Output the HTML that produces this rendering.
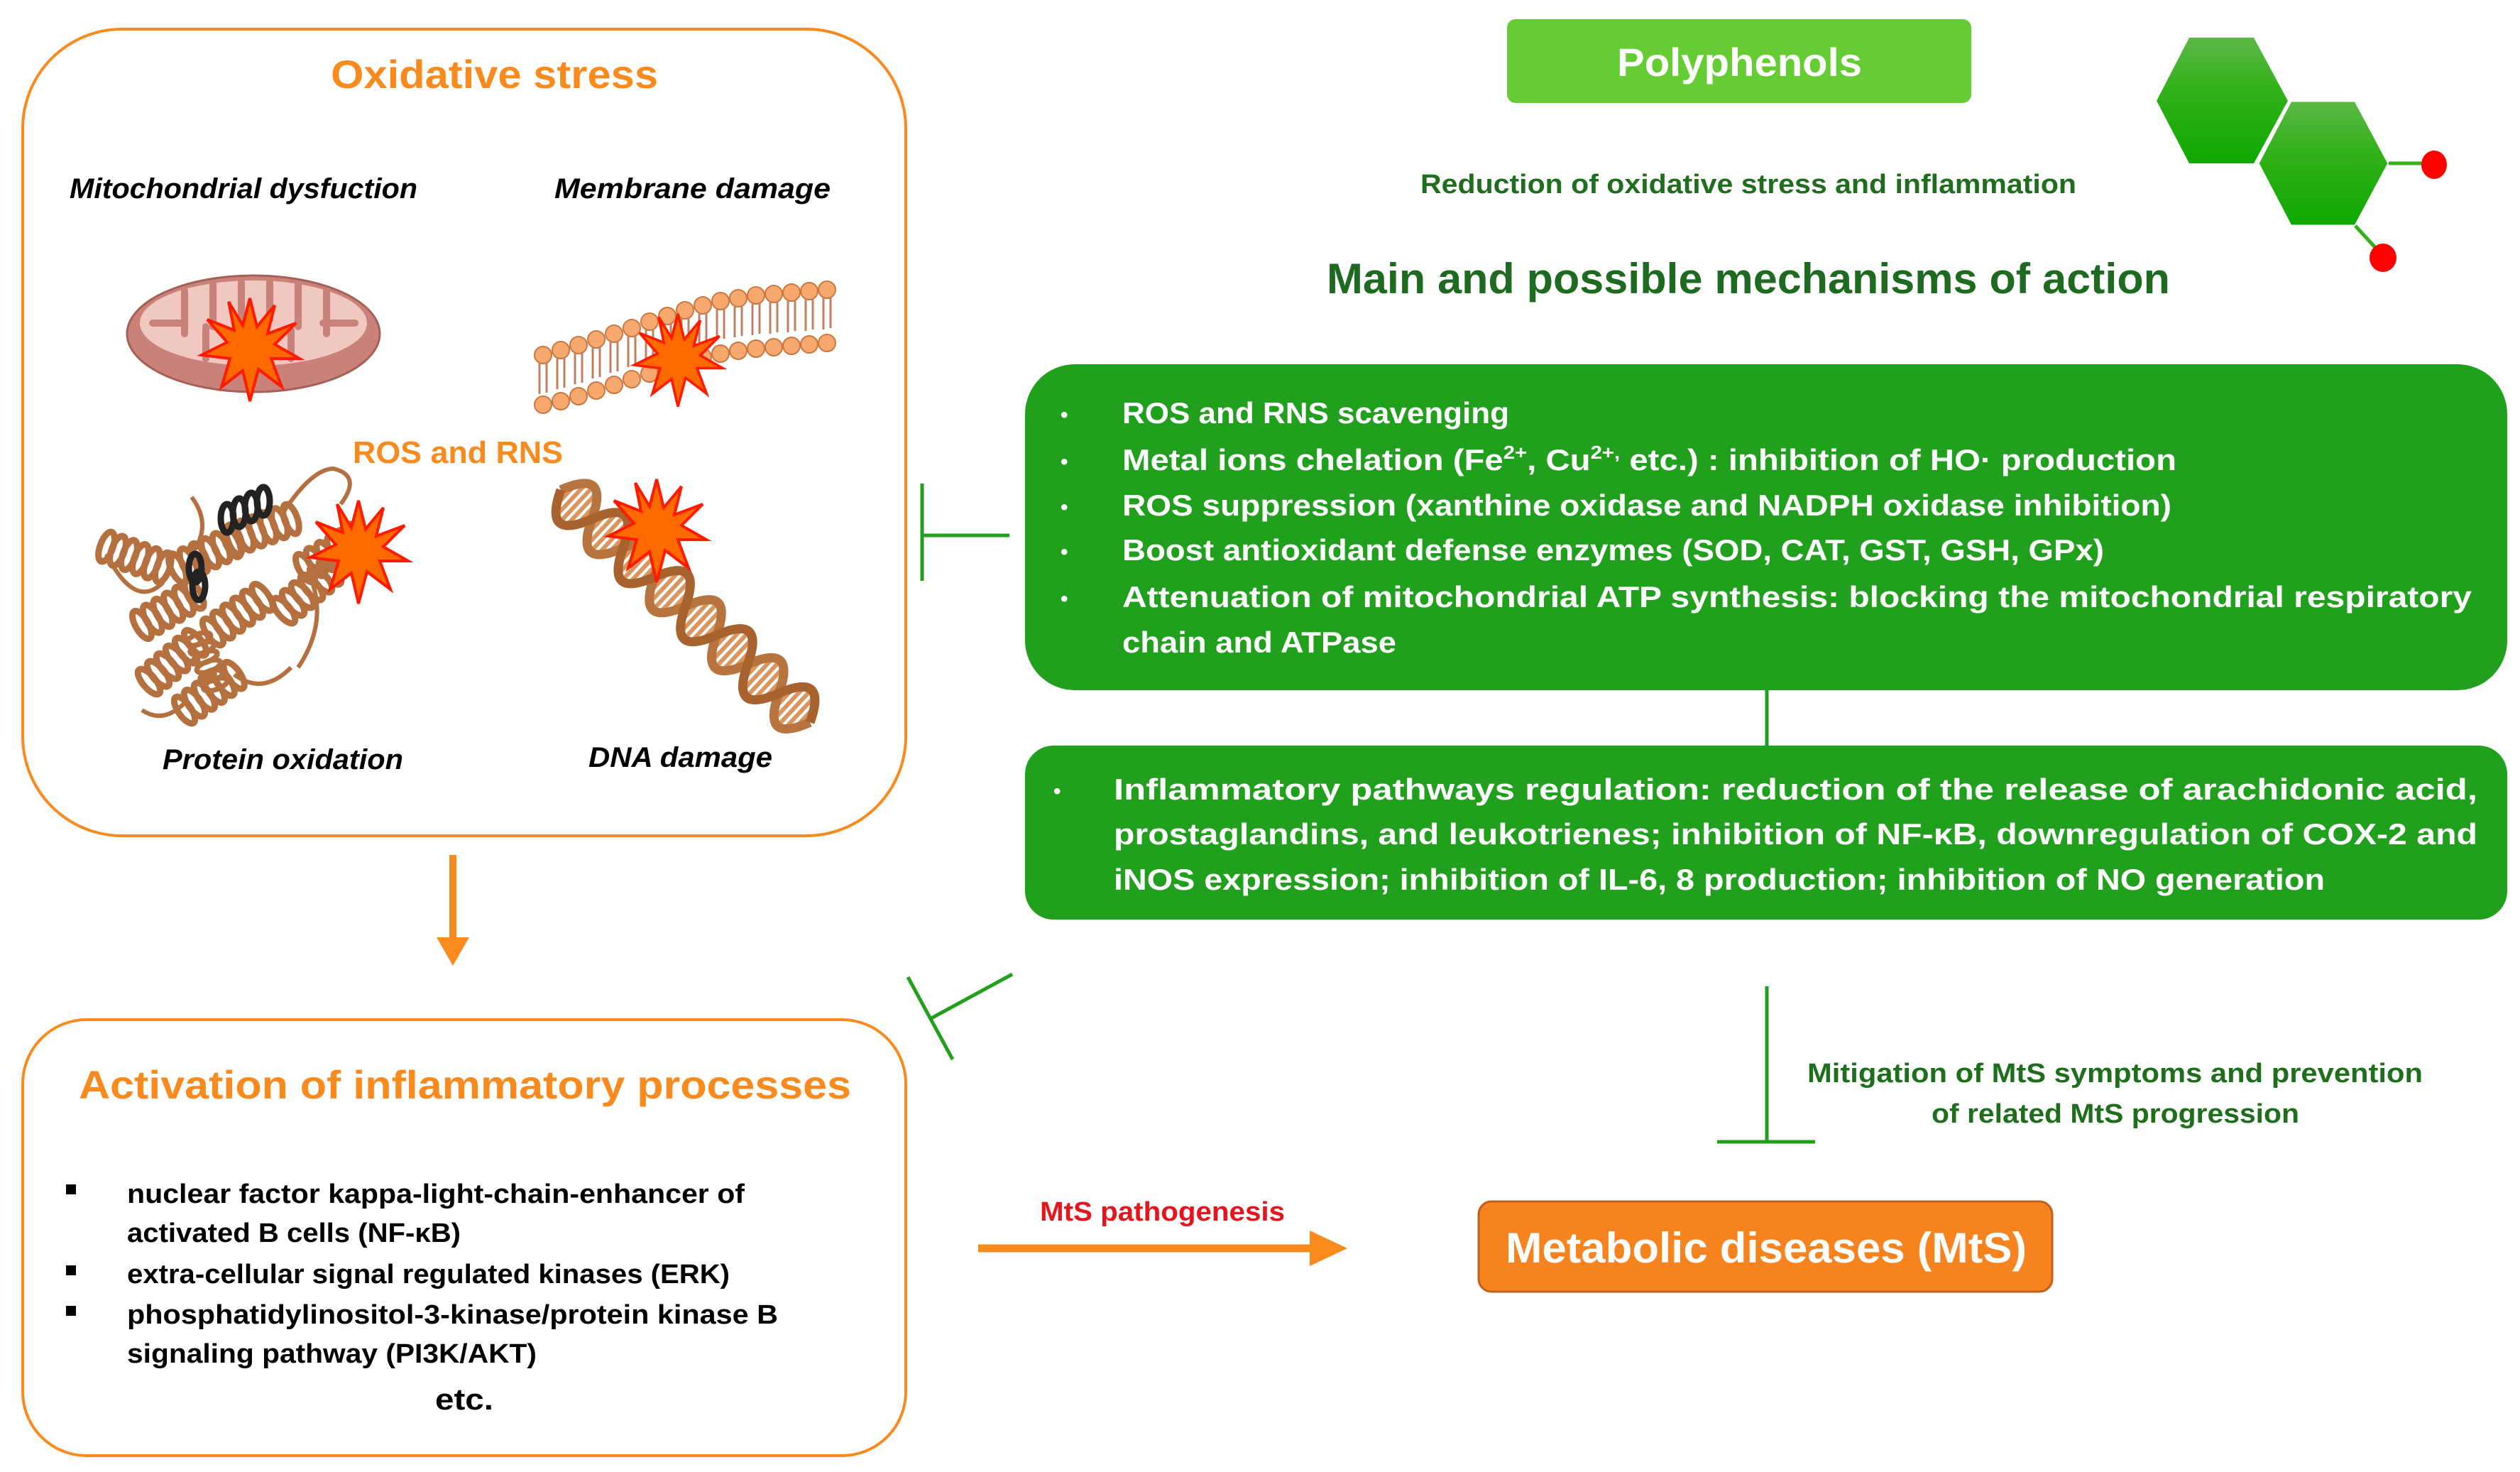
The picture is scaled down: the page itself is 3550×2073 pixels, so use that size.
<!DOCTYPE html>
<html><head><meta charset="utf-8"><style>
html,body{margin:0;padding:0;background:#fff;}
svg{display:block;}
text{font-family:"Liberation Sans",sans-serif;font-weight:bold;}
</style></head><body>
<svg width="3550" height="2073" viewBox="0 0 3550 2073" xmlns="http://www.w3.org/2000/svg">
<defs>
<linearGradient id="hg" x1="0" y1="0" x2="0" y2="1"><stop offset="0" stop-color="#5cb847"/><stop offset="0.4" stop-color="#33b11a"/><stop offset="1" stop-color="#0fa800"/></linearGradient>
<g id="star"><polygon points="0,-70 10,-30 35,-60 25,-20 65,-35 35,-5 70,15 30,15 45,55 12,30 0,75 -10,32 -40,55 -28,15 -68,10 -32,-8 -60,-40 -22,-25 -30,-65 -10,-32" fill="#ff6a00" stroke="#ff1a00" stroke-width="4"/></g>
<g id="hx" fill="none" stroke="#b4703e" stroke-width="9"><ellipse cx="0" cy="0" rx="9" ry="22"/><ellipse cx="17" cy="0" rx="9" ry="22"/><ellipse cx="34" cy="0" rx="9" ry="22"/><ellipse cx="51" cy="0" rx="9" ry="22"/><ellipse cx="68" cy="0" rx="9" ry="22"/><ellipse cx="85" cy="0" rx="9" ry="22"/></g>
<g id="rung" stroke="#d9965f" stroke-width="6"><line x1="10" y1="-17" x2="10" y2="17"/><line x1="20" y1="-30" x2="20" y2="30"/><line x1="30" y1="-35" x2="30" y2="35"/><line x1="40" y1="-30" x2="40" y2="30"/><line x1="50" y1="-17" x2="50" y2="17"/></g>
</defs>

<!-- Oxidative stress box -->
<rect x="32" y="41" width="1244" height="1136" rx="140" fill="none" stroke="#f98a1e" stroke-width="4"/>
<text x="466" y="124" font-size="56" fill="#f98a1e" textLength="461" lengthAdjust="spacingAndGlyphs">Oxidative stress</text>
<text x="98" y="279" font-size="40" font-style="italic" fill="#000" textLength="490" lengthAdjust="spacingAndGlyphs">Mitochondrial dysfuction</text>
<text x="781" y="279" font-size="40" font-style="italic" fill="#000" textLength="389" lengthAdjust="spacingAndGlyphs">Membrane damage</text>
<text x="497" y="652" font-size="44" fill="#f98a1e" textLength="296" lengthAdjust="spacingAndGlyphs">ROS and RNS</text>
<text x="229" y="1083" font-size="40" font-style="italic" fill="#000" textLength="339" lengthAdjust="spacingAndGlyphs">Protein oxidation</text>
<text x="829" y="1080" font-size="40" font-style="italic" fill="#000" textLength="259" lengthAdjust="spacingAndGlyphs">DNA damage</text>

<!-- mitochondrion -->
<ellipse cx="357" cy="470" rx="178" ry="82" fill="#c98279" stroke="#a66058" stroke-width="3"/>
<ellipse cx="357" cy="455" rx="160" ry="60" fill="#f0c8c0"/>
<g fill="none" stroke="#c98279" stroke-width="10" stroke-linecap="round">
<path d="M215,455 L255,455 M260,410 L260,470 M300,400 L300,460 M340,398 L340,450 M380,398 L380,450 M420,400 L420,460 M460,410 L460,470 M500,455 L455,455 M290,505 L290,460 M410,505 L410,465"/>
</g>
<use href="#star" transform="translate(352,490)"/>

<!-- membrane -->
<g fill="#f7a86e" stroke="#c87840" stroke-width="2">
<circle cx="765" cy="500" r="12"/><circle cx="790" cy="493" r="12"/><circle cx="815" cy="486" r="12"/><circle cx="840" cy="478" r="12"/><circle cx="865" cy="470" r="12"/><circle cx="890" cy="462" r="12"/><circle cx="915" cy="453" r="12"/><circle cx="940" cy="445" r="12"/><circle cx="965" cy="437" r="12"/><circle cx="990" cy="430" r="12"/><circle cx="1015" cy="424" r="12"/><circle cx="1040" cy="420" r="12"/><circle cx="1065" cy="416" r="12"/><circle cx="1090" cy="414" r="12"/><circle cx="1115" cy="412" r="12"/><circle cx="1140" cy="410" r="12"/><circle cx="1165" cy="408" r="12"/>
<circle cx="765" cy="570" r="12"/><circle cx="790" cy="565" r="12"/><circle cx="815" cy="558" r="12"/><circle cx="840" cy="550" r="12"/><circle cx="865" cy="542" r="12"/><circle cx="890" cy="534" r="12"/><circle cx="915" cy="526" r="12"/><circle cx="940" cy="518" r="12"/><circle cx="965" cy="510" r="12"/><circle cx="990" cy="503" r="12"/><circle cx="1015" cy="498" r="12"/><circle cx="1040" cy="494" r="12"/><circle cx="1065" cy="491" r="12"/><circle cx="1090" cy="489" r="12"/><circle cx="1115" cy="487" r="12"/><circle cx="1140" cy="485" r="12"/><circle cx="1165" cy="483" r="12"/>
</g>
<path d="M760,512 L760,555 M770,510 L770,553 M785,505 L785,548 M795,503 L795,546 M810,498 L810,541 M820,496 L820,539 M835,490 L835,533 M845,488 L845,531 M860,482 L860,525 M870,480 L870,523 M885,474 L885,517 M895,472 L895,515 M910,465 L910,508 M920,463 L920,506 M935,457 L935,500 M945,455 L945,498 M960,449 L960,492 M970,447 L970,490 M985,442 L985,485 M995,440 L995,483 M1010,436 L1010,479 M1020,434 L1020,477 M1035,432 L1035,475 M1045,430 L1045,473 M1060,428 L1060,472 M1070,426 L1070,470 M1085,426 L1085,470 M1095,424 L1095,468 M1110,424 L1110,468 M1120,422 L1120,466 M1135,422 L1135,466 M1145,420 L1145,464 M1160,420 L1160,464 M1170,418 L1170,462" stroke="#c08060" stroke-width="3"/>
<use href="#star" transform="translate(955,505) scale(0.9)"/>

<!-- protein -->
<g fill="none" stroke="#b4703e" stroke-width="6">
<path d="M400,720 q40,-60 70,-60 q40,10 10,50"/>
<path d="M200,1000 q30,20 60,-10 M270,700 q30,40 0,80 M440,820 q20,60 -20,120 M150,780 q40,80 80,40 M330,950 q40,30 80,-10"/>
</g>
<use href="#hx" transform="translate(150,770) rotate(20)"/>
<use href="#hx" transform="translate(250,800) rotate(-25)"/>
<use href="#hx" transform="translate(330,760) rotate(-20)"/>
<use href="#hx" transform="translate(200,880) rotate(-30)"/>
<use href="#hx" transform="translate(300,890) rotate(-35)"/>
<use href="#hx" transform="translate(210,960) rotate(-40)"/>
<use href="#hx" transform="translate(400,860) rotate(-40)"/>
<use href="#hx" transform="translate(260,1000) rotate(-35)"/>
<use href="#hx" transform="translate(430,800) rotate(-30)"/>
<g transform="translate(280,900) rotate(70) scale(0.8)"><use href="#hx"/></g>
<g transform="translate(935,650) scale(0)"></g>
<g fill="none" stroke="#222" stroke-width="9"><ellipse cx="320" cy="730" rx="9" ry="20"/><ellipse cx="337" cy="722" rx="9" ry="20"/><ellipse cx="354" cy="714" rx="9" ry="20"/><ellipse cx="371" cy="706" rx="9" ry="20"/></g>
<g fill="none" stroke="#222" stroke-width="9"><ellipse cx="275" cy="800" rx="9" ry="20"/><ellipse cx="280" cy="825" rx="9" ry="20"/></g>
<use href="#star" transform="translate(505,775)"/>

<!-- DNA -->
<g transform="translate(790,690) rotate(43)">
<use href="#rung" transform="translate(0,0)"/><use href="#rung" transform="translate(60,0)"/><use href="#rung" transform="translate(120,0)"/><use href="#rung" transform="translate(180,0)"/><use href="#rung" transform="translate(240,0)"/><use href="#rung" transform="translate(300,0)"/><use href="#rung" transform="translate(360,0)"/><use href="#rung" transform="translate(420,0)"/>
<path d="M0,0 Q30,-70 60,0 T120,0 T180,0 T240,0 T300,0 T360,0 T420,0 T480,0" fill="none" stroke="#b8743e" stroke-width="13"/>
<path d="M0,0 Q30,70 60,0 T120,0 T180,0 T240,0 T300,0 T360,0 T420,0 T480,0" fill="none" stroke="#a8622e" stroke-width="13"/>
</g>
<use href="#star" transform="translate(925,745)"/>

<!-- down arrow -->
<line x1="638" y1="1204" x2="638" y2="1325" stroke="#f98a1e" stroke-width="10"/>
<polygon points="615,1320 661,1320 638,1360" fill="#f98a1e"/>

<!-- Activation box -->
<rect x="32" y="1436" width="1244" height="614" rx="90" fill="none" stroke="#f98a1e" stroke-width="4"/>
<text x="111" y="1547" font-size="56" fill="#f98a1e" textLength="1088" lengthAdjust="spacingAndGlyphs">Activation of inflammatory processes</text>
<g font-size="38" fill="#000">
<rect x="93" y="1668" width="14" height="14"/>
<rect x="93" y="1782" width="14" height="14"/>
<rect x="93" y="1839" width="14" height="14"/>
<text x="179" y="1694" textLength="870" lengthAdjust="spacingAndGlyphs">nuclear factor kappa-light-chain-enhancer of</text>
<text x="179" y="1749" textLength="470" lengthAdjust="spacingAndGlyphs">activated B cells (NF-κB)</text>
<text x="179" y="1807" textLength="849" lengthAdjust="spacingAndGlyphs">extra-cellular signal regulated kinases (ERK)</text>
<text x="179" y="1864" textLength="917" lengthAdjust="spacingAndGlyphs">phosphatidylinositol-3-kinase/protein kinase B</text>
<text x="179" y="1919" textLength="577" lengthAdjust="spacingAndGlyphs">signaling pathway (PI3K/AKT)</text>
<text x="613" y="1985" font-size="42" textLength="82" lengthAdjust="spacingAndGlyphs">etc.</text>
</g>

<!-- Polyphenols -->
<rect x="2123" y="27" width="654" height="118" rx="12" fill="#66cc33"/>
<text x="2278" y="107" font-size="56" fill="#fff" textLength="345" lengthAdjust="spacingAndGlyphs">Polyphenols</text>
<text x="2001" y="272" font-size="38" fill="#1e6e1e" textLength="924" lengthAdjust="spacingAndGlyphs">Reduction of oxidative stress and inflammation</text>
<text x="1869" y="413" font-size="60" fill="#1e6a20" textLength="1188" lengthAdjust="spacingAndGlyphs">Main and possible mechanisms of action</text>

<!-- hexagons -->
<polygon points="3038,142 3084,53 3175,53 3223,142 3175,230 3084,230" fill="url(#hg)"/>
<polygon points="3181,230 3227,142 3318,142 3365,230 3318,318 3227,318" fill="url(#hg)" stroke="#fff" stroke-width="3"/>
<line x1="3365" y1="230" x2="3420" y2="230" stroke="#33b11a" stroke-width="5"/>
<line x1="3318" y1="318" x2="3352" y2="355" stroke="#33b11a" stroke-width="5"/>
<ellipse cx="3429" cy="232" rx="18" ry="20" fill="#ff0000"/>
<ellipse cx="3357" cy="363" rx="19" ry="20" fill="#ff0000"/>

<!-- Green box 1 -->
<rect x="1444" y="513" width="2088" height="459" rx="70" fill="#21a01e"/>
<g font-size="42" fill="#fff">
<g font-size="30"><text x="1494" y="594">•</text><text x="1494" y="660">•</text><text x="1494" y="724">•</text><text x="1494" y="787">•</text><text x="1494" y="853">•</text></g>
<text x="1581" y="596" textLength="545" lengthAdjust="spacingAndGlyphs">ROS and RNS scavenging</text>
<text x="1581" y="662" textLength="1485" lengthAdjust="spacingAndGlyphs">Metal ions chelation (Fe<tspan font-size="26" dy="-16">2+</tspan><tspan dy="16">, Cu</tspan><tspan font-size="26" dy="-16">2+,</tspan><tspan dy="16"> etc.) :  inhibition of HO· production</tspan></text>
<text x="1581" y="726" textLength="1478" lengthAdjust="spacingAndGlyphs">ROS suppression (xanthine oxidase and NADPH oxidase inhibition)</text>
<text x="1581" y="789" textLength="1383" lengthAdjust="spacingAndGlyphs">Boost antioxidant defense enzymes  (SOD, CAT, GST, GSH, GPx)</text>
<text x="1581" y="855" textLength="1901" lengthAdjust="spacingAndGlyphs">Attenuation of mitochondrial ATP synthesis: blocking the mitochondrial respiratory</text>
<text x="1581" y="919" textLength="386" lengthAdjust="spacingAndGlyphs">chain and ATPase</text>
</g>
<line x1="2489" y1="972" x2="2489" y2="1050" stroke="#21a01e" stroke-width="5"/>

<!-- Green box 2 -->
<rect x="1444" y="1050" width="2088" height="245" rx="40" fill="#21a01e"/>
<g font-size="42" fill="#fff">
<text x="1484" y="1124" font-size="30">•</text>
<text x="1569" y="1126" textLength="1921" lengthAdjust="spacingAndGlyphs">Inflammatory pathways regulation: reduction of the release of arachidonic acid,</text>
<text x="1569" y="1189" textLength="1921" lengthAdjust="spacingAndGlyphs">prostaglandins, and leukotrienes; inhibition of NF-κB, downregulation of COX-2 and</text>
<text x="1569" y="1253" textLength="1706" lengthAdjust="spacingAndGlyphs">iNOS expression; inhibition of IL-6, 8 production; inhibition of NO generation</text>
</g>

<!-- inhibition T symbols -->
<g stroke="#21a01e" stroke-width="5" fill="none">
<line x1="1299" y1="681" x2="1299" y2="818"/>
<line x1="1299" y1="754" x2="1422" y2="754"/>
<line x1="1426" y1="1372" x2="1310" y2="1435"/>
<line x1="1279" y1="1376" x2="1342" y2="1492"/>
<line x1="2489" y1="1389" x2="2489" y2="1608"/>
<line x1="2419" y1="1608" x2="2557" y2="1608"/>
</g>
<text x="2546" y="1524" font-size="38" fill="#1e6e1e" textLength="867" lengthAdjust="spacingAndGlyphs">Mitigation of MtS symptoms and prevention</text>
<text x="2721" y="1581" font-size="38" fill="#1e6e1e" textLength="518" lengthAdjust="spacingAndGlyphs">of related MtS progression</text>

<!-- MtS pathogenesis arrow -->
<text x="1465" y="1719" font-size="38" fill="#e8141c" textLength="345" lengthAdjust="spacingAndGlyphs">MtS pathogenesis</text>
<line x1="1378" y1="1758" x2="1850" y2="1758" stroke="#f98a1e" stroke-width="11"/>
<polygon points="1845,1733 1898,1758 1845,1783" fill="#f98a1e"/>

<!-- Metabolic diseases box -->
<rect x="2083" y="1692" width="808" height="127" rx="18" fill="#f7831f" stroke="#c0601a" stroke-width="3"/>
<text x="2121" y="1778" font-size="60" fill="#fff" textLength="734" lengthAdjust="spacingAndGlyphs">Metabolic diseases (MtS)</text>
</svg>
</body></html>
